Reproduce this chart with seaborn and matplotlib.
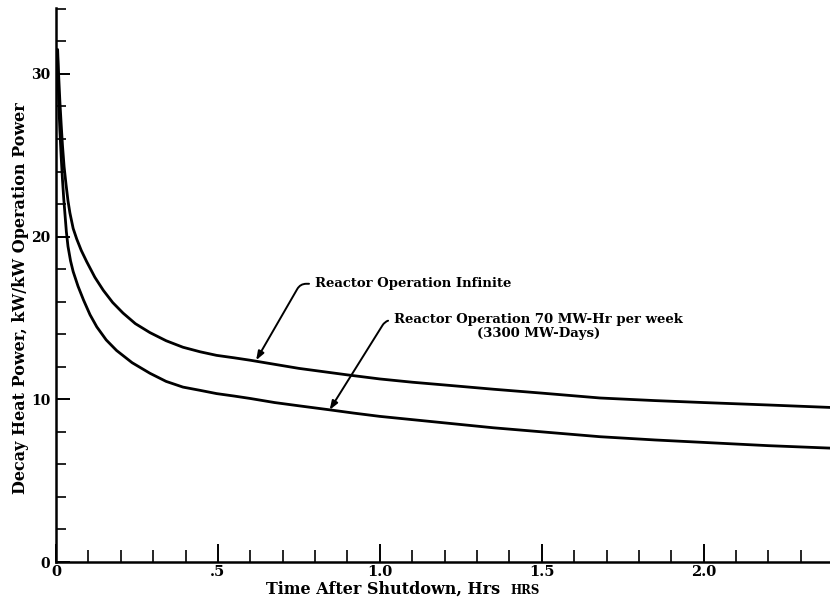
import numpy as np
import pandas as pd
import matplotlib
matplotlib.use("Agg")
import matplotlib.pyplot as plt
import seaborn as sns
from matplotlib.ticker import FixedLocator, FixedFormatter, MultipleLocator

# --- data ---
x_infinite = [0.005, 0.008, 0.012, 0.016, 0.02, 0.025, 0.031, 0.037, 0.043, 0.053,
              0.064, 0.078, 0.095, 0.12, 0.146, 0.175, 0.207, 0.245, 0.29, 0.34,
              0.392, 0.445, 0.496, 0.55, 0.6, 0.675, 0.75, 0.825, 0.9, 1.0,
              1.1, 1.2, 1.35, 1.5, 1.68, 1.85, 2.0, 2.2, 2.39]
y_infinite = [31.5, 30.0, 28.3, 26.9, 25.6, 24.3, 23.2, 22.2, 21.45, 20.5,
              19.85, 19.15, 18.45, 17.5, 16.7, 15.95, 15.3, 14.65, 14.1, 13.6,
              13.2, 12.92, 12.7, 12.55, 12.4, 12.15, 11.9, 11.7, 11.5, 11.25,
              11.05, 10.88, 10.62, 10.38, 10.08, 9.92, 9.8, 9.65, 9.5]

x_70mwhr = [0.005, 0.008, 0.012, 0.016, 0.02, 0.024, 0.028, 0.032, 0.037, 0.045,
            0.053, 0.068, 0.085, 0.105, 0.126, 0.155, 0.187, 0.235, 0.29, 0.34,
            0.392, 0.445, 0.496, 0.55, 0.6, 0.675, 0.75, 0.846, 0.92, 1.0,
            1.1, 1.2, 1.35, 1.5, 1.68, 1.85, 2.0, 2.2, 2.39]
y_70mwhr = [31.0, 28.5, 26.5, 24.9, 23.5, 22.3, 21.3, 20.3, 19.4, 18.5,
            17.85, 16.95, 16.1, 15.2, 14.45, 13.65, 13.0, 12.25, 11.6, 11.1,
            10.75, 10.55, 10.35, 10.2, 10.05, 9.8, 9.6, 9.35, 9.15, 8.95,
            8.75, 8.55, 8.25, 8.0, 7.7, 7.5, 7.35, 7.15, 7.0]

x_major_ticks = [0, 0.5, 1.0, 1.5, 2.0]
x_major_labels = ["0", ".5", "1.0", "1.5", "2.0"]
y_major_ticks = [0, 10, 20, 30]
y_major_labels = ["0", "10", "20", "30"]

label_infinite = "Reactor Operation Infinite"
label_70 = "Reactor Operation 70 MW-Hr per week\n(3300 MW-Days)"

df = pd.concat([
    pd.DataFrame({"t": x_infinite, "p": y_infinite, "case": "infinite"}),
    pd.DataFrame({"t": x_70mwhr, "p": y_70mwhr, "case": "70"}),
])

sns.set_theme(style="ticks")
plt.rcParams["font.family"] = ["DejaVu Serif"]
plt.rcParams["font.weight"] = "bold"
plt.rcParams["text.color"] = "black"
plt.rcParams["xtick.color"] = "black"
plt.rcParams["ytick.color"] = "black"
plt.rcParams["axes.edgecolor"] = "black"

fig = plt.figure(figsize=(8.30, 5.98), dpi=100)
ax = fig.add_axes([56 / 830, 1 - 562 / 598, 1 - 56 / 830, (562 - 8) / 598])

sns.lineplot(data=df, x="t", y="p", units="case", estimator=None, sort=False,
             color="black", linewidth=2.0, ax=ax, legend=False)
for ln in ax.lines:
    ln.set_solid_joinstyle("round")
    ln.set_solid_capstyle("round")

ax.set_xlim(0, 2.39)
ax.set_ylim(0, 34.05)

ax.xaxis.set_major_locator(FixedLocator(x_major_ticks))
ax.xaxis.set_major_formatter(FixedFormatter(x_major_labels))
ax.xaxis.set_minor_locator(MultipleLocator(0.1))
ax.yaxis.set_major_locator(FixedLocator(y_major_ticks))
ax.yaxis.set_major_formatter(FixedFormatter(y_major_labels))
ax.yaxis.set_minor_locator(MultipleLocator(2))

ax.tick_params(axis="x", which="major", direction="in", length=13, width=1.4,
               labelsize=10.5, pad=2, colors="black")
ax.tick_params(axis="x", which="minor", direction="in", length=8.5, width=1.2,
               colors="black")
ax.tick_params(axis="y", which="major", direction="in", length=10, width=1.4,
               labelsize=10, pad=4, colors="black")
ax.tick_params(axis="y", which="minor", direction="in", length=7, width=1.2,
               colors="black")
for lab in ax.get_xticklabels() + ax.get_yticklabels():
    lab.set_fontweight("bold")

for side in ["top", "right"]:
    ax.spines[side].set_visible(False)
for side in ["left", "bottom"]:
    ax.spines[side].set_linewidth(1.8)
    ax.spines[side].set_color("black")

ax.set_xlabel("")
ax.set_ylabel("")
fig.text(21 / 830, 1 - 298 / 598, "Decay Heat Power, kW/kW Operation Power",
         rotation=90, ha="center", va="center", fontsize=11.5, fontweight="bold")
fig.text(383 / 830, 1 - 589 / 598, "Time After Shutdown, Hrs",
         ha="center", va="center", fontsize=11.5, fontweight="bold")
fig.text(510 / 830, 1 - 591 / 598, "HRS",
         ha="left", va="center", fontsize=8.5, fontweight="bold")

# annotations
arrow_kw = dict(arrowstyle="-|>,head_length=0.55,head_width=0.2",
                color="black", lw=1.4, shrinkB=0)
ax.annotate(label_infinite, xy=(0.618, 12.4), xytext=(0.8, 17.1),
            ha="left", va="center", fontsize=9.5, fontweight="bold",
            arrowprops=dict(**arrow_kw, shrinkA=2, relpos=(0.0, 0.5),
                            connectionstyle="angle,angleA=0,angleB=60,rad=6"))
ax.annotate(label_70, xy=(0.845, 9.35), xytext=(1.49, 14.45),
            ha="center", va="center", fontsize=9.5, fontweight="bold",
            multialignment="center", linespacing=1.1,
            arrowprops=dict(**arrow_kw, shrinkA=2, relpos=(0.0, 0.75),
                            connectionstyle="angle,angleA=0,angleB=58,rad=6"))

fig.savefig("out.png", dpi=100)
